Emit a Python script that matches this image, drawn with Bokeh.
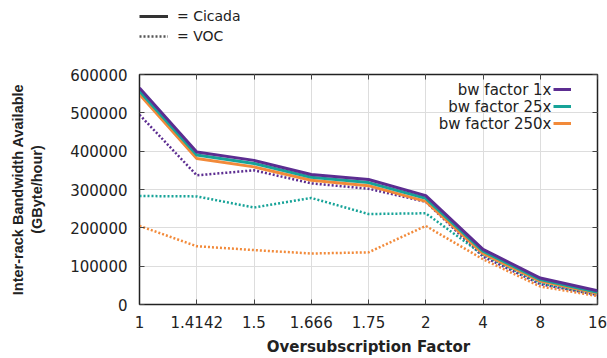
from bokeh.plotting import figure
from bokeh.layouts import column
from bokeh.models import Legend, LegendItem, LinearAxis, FixedTicker, ColumnDataSource, Label
from bokeh.embed import file_html
from bokeh.resources import INLINE

categories = ["1", "1.4142", "1.5", "1.666", "1.75", "2", "4", "8", "16"]
y_ticks = [0, 100000, 200000, 300000, 400000, 500000, 600000]

cicada_1x = [565000, 398000, 376000, 339000, 326000, 284000, 144000, 69000, 36000]
cicada_25x = [557000, 390000, 368000, 332000, 318000, 277000, 139000, 65000, 32000]
cicada_250x = [548000, 381000, 359000, 324000, 310000, 269000, 133000, 61000, 29000]

voc_1x = [495000, 337000, 350000, 316000, 302000, 268000, 125000, 53000, 25000]
voc_25x = [283000, 282000, 253000, 278000, 236000, 238000, 130000, 56000, 25000]
voc_250x = [205000, 152000, 142000, 133000, 136000, 205000, 118000, 47000, 22000]

series_names = ["bw factor 1x", "bw factor 25x", "bw factor 250x"]
colors = ["#5c2d91", "#17a398", "#f28a3a"]
style_names = ["= Cicada", "= VOC"]

xs = list(range(len(categories)))

FONT = "DejaVu Sans"

# ---------- top strip holding the line-style key ----------
top = figure(width=607, height=46, output_backend="svg", toolbar_location=None,
             x_range=(0, 1), y_range=(0, 1), min_border=0,
             min_border_left=0, min_border_right=0, min_border_top=0, min_border_bottom=0)
top.axis.visible = False
top.grid.visible = False
top.outline_line_color = None
nan = float("nan")
src = ColumnDataSource(data=dict(x=[0], y=[nan]))
r_sol = top.line("x", "y", source=src, line_color="#333333", line_width=3)
r_dot = top.line("x", "y", source=src, line_color="#555555", line_width=2.5, line_dash="2 2")
leg2 = Legend(items=[LegendItem(label=style_names[0], renderers=[r_sol]),
                     LegendItem(label=style_names[1], renderers=[r_dot])],
              location=(0, 1), orientation="vertical",
              glyph_width=29, glyph_height=18, label_height=18, spacing=2, padding=0, margin=0,
              label_standoff=9,
              label_text_font=FONT, label_text_font_size="14px", label_text_color="#222222",
              background_fill_alpha=0, border_line_color=None)
top.add_layout(leg2, "center")

# ---------- main chart ----------
p = figure(width=607, height=312, output_backend="svg", toolbar_location=None,
           x_range=(0, len(categories) - 1), y_range=(0, 600000),
           min_border_left=139, min_border_right=10, min_border_top=28, min_border_bottom=54)
p.outline_line_color = "#222222"
p.outline_line_width = 1.5
p.background_fill_color = "white"
p.border_fill_color = "white"

p.xaxis.ticker = FixedTicker(ticks=xs)
p.xaxis.major_label_overrides = {i: c for i, c in zip(xs, categories)}
p.yaxis.ticker = FixedTicker(ticks=y_ticks)
p.yaxis.formatter.use_scientific = False
for ax in (p.xaxis[0], p.yaxis[0]):
    ax.major_tick_in = 5
    ax.major_tick_out = 0
    ax.minor_tick_line_color = None
    ax.axis_line_color = "#222222"
    ax.major_tick_line_color = "#444444"
    ax.major_label_text_font = FONT
    ax.major_label_text_font_size = "15px"
    ax.major_label_text_color = "#222222"
    ax.axis_label_text_font_style = "bold"
    ax.axis_label_text_color = "#222222"
p.xaxis.major_label_standoff = 11
p.yaxis.major_label_standoff = 12
p.xaxis.axis_label = "Oversubscription Factor"
p.xaxis.axis_label_text_font = FONT
p.xaxis.axis_label_text_font_size = "15px"
p.xaxis.axis_label_standoff = 7
p.yaxis.axis_label = "Inter-rack Bandwidth Available\n(GByte/hour)"
p.yaxis.axis_label_text_font = "Liberation Sans"
p.yaxis.axis_label_text_font_size = "14.5px"
p.yaxis.axis_label_standoff = 22

# mirrored inner ticks
ra = LinearAxis(ticker=FixedTicker(ticks=y_ticks), major_tick_in=5, major_tick_out=0,
                minor_tick_line_color=None, major_label_text_font_size="1px",
                major_label_text_color=None,
                axis_line_color=None, major_tick_line_color="#444444", major_label_standoff=0)
ta = LinearAxis(ticker=FixedTicker(ticks=xs), major_tick_in=5, major_tick_out=0,
                minor_tick_line_color=None, major_label_text_font_size="1px",
                major_label_text_color=None,
                axis_line_color=None, major_tick_line_color="#444444", major_label_standoff=0)
p.add_layout(ra, "right")
p.add_layout(ta, "above")

p.xgrid.ticker = FixedTicker(ticks=xs)
p.ygrid.ticker = FixedTicker(ticks=y_ticks)
p.grid.grid_line_color = "#dddddd"
p.grid.grid_line_width = 1

cicada = [cicada_1x, cicada_25x, cicada_250x]
voc = [voc_1x, voc_25x, voc_250x]

for vals, c in zip(voc, colors):
    p.line(xs, vals, line_color=c, line_width=2.5, line_dash="2 2")
solid_renderers = []
for vals, c in zip(reversed(cicada), reversed(colors)):
    r = p.line(xs, vals, line_color=c, line_width=3)
    solid_renderers.insert(0, r)

# series legend keys (text drawn separately, right-aligned, left of the keys)
leg = Legend(items=[LegendItem(label=n, renderers=[r]) for n, r in zip(series_names, solid_renderers)],
             location=(414, 173), orientation="vertical",
             glyph_width=18, glyph_height=16, label_height=16, spacing=1, padding=0, margin=0,
             label_standoff=0, label_width=1,
             label_text_font=FONT, label_text_font_size="1px", label_text_color=None,
             background_fill_alpha=0, border_line_color=None)
p.add_layout(leg, "center")

row_offsets = [-15, -32, -49]
for name, dy in zip(series_names, row_offsets):
    p.add_layout(Label(x=xs[-1], y=y_ticks[-1], x_offset=-46, y_offset=dy, text=name,
                       text_align="right", text_baseline="middle",
                       text_font=FONT, text_font_size="15px", text_color="#222222"))

layout = column(top, p, spacing=0)
open("out.html", "w").write(file_html(layout, INLINE))
